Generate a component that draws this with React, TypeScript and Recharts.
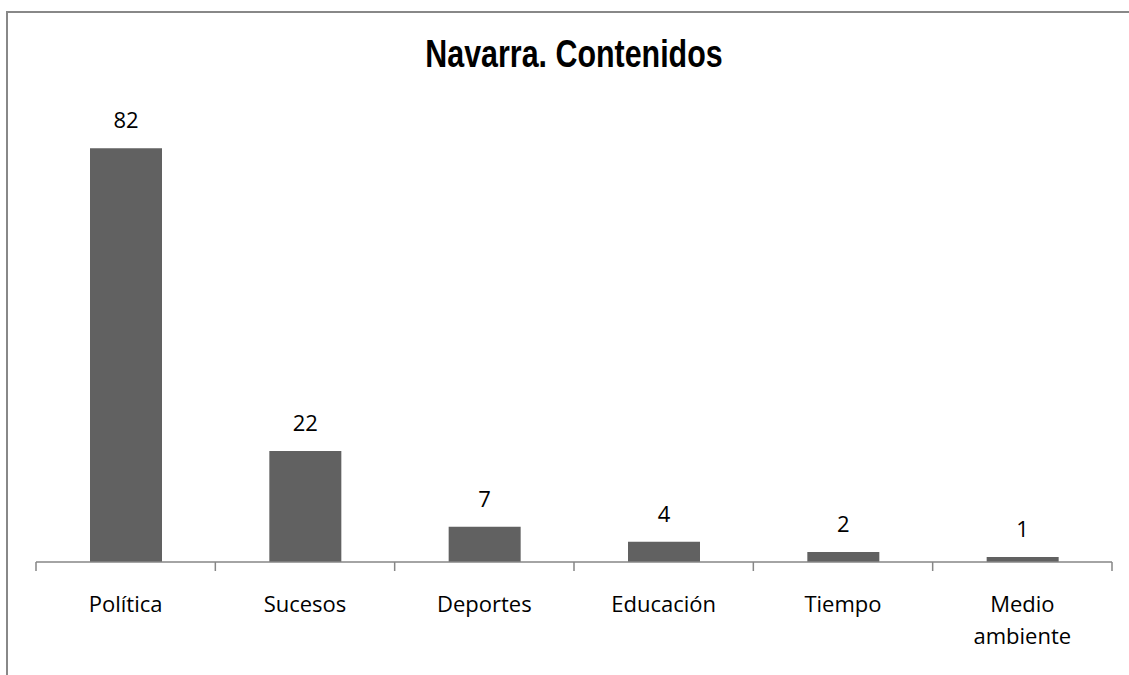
import React from 'react';
import { BarChart, Bar, XAxis, YAxis, LabelList } from 'recharts';

const categories = ['Política', 'Sucesos', 'Deportes', 'Educación', 'Tiempo', 'Medio ambiente'];
const counts = [82, 22, 7, 4, 2, 1];

const data = categories.map((name, i) => ({ name, value: counts[i] }));

const WIDTH = 1129;
const HEIGHT = 675;
const MARGIN = { top: 108, right: 17, bottom: 0, left: 36 };
const BAND = (WIDTH - MARGIN.left - MARGIN.right) / categories.length;
const AXIS_COLOR = '#868686';
const LABEL_FONT = '"Open Sans", "Noto Sans", sans-serif';

const CategoryTick = (props: any) => {
  const { x, y, payload, index } = props;
  const words = String(payload.value).split(' ');
  const lines = words.length > 1 ? words : [payload.value];
  const left = x - BAND / 2;
  return (
    <g>
      <line x1={left} y1={y - 8} x2={left} y2={y + 1} stroke={AXIS_COLOR} strokeWidth={1.5} />
      {index === categories.length - 1 && (
        <line x1={left + BAND} y1={y - 8} x2={left + BAND} y2={y + 1} stroke={AXIS_COLOR} strokeWidth={1.5} />
      )}
      <text
        x={x}
        y={y + 42}
        textAnchor="middle"
        fill="#000"
        fontSize={22}
        fontFamily={LABEL_FONT}
      >
        {lines.map((l: string, i: number) => (
          <tspan key={i} x={x} dy={i === 0 ? 0 : 32}>
            {l}
          </tspan>
        ))}
      </text>
    </g>
  );
};

export default function App() {
  return (
    <div
      style={{
        position: 'fixed',
        left: 0,
        top: 0,
        width: WIDTH,
        height: HEIGHT,
        overflow: 'hidden',
        background: '#fff',
      }}
    >
      <div
        style={{
          position: 'absolute',
          left: 6,
          top: 11,
          width: WIDTH + 40,
          height: HEIGHT + 40,
          borderTop: '2px solid #888',
          borderLeft: '2px solid #888',
        }}
      />
      <div
        style={{
          position: 'absolute',
          left: MARGIN.left,
          width: WIDTH - MARGIN.left - MARGIN.right,
          top: 32,
          textAlign: 'center',
          fontFamily: '"Liberation Sans", Arial, sans-serif',
          fontSize: 38,
          fontWeight: 'bold',
          color: '#000',
          lineHeight: '44px',
          transform: 'scaleX(0.8)',
          transformOrigin: 'center',
        }}
      >
        Navarra. Contenidos
      </div>
      <div style={{ position: 'absolute', left: 0, top: 0 }}>
        <BarChart width={WIDTH} height={HEIGHT} data={data} margin={MARGIN}>
          <XAxis
            dataKey="name"
            height={113}
            axisLine={{ stroke: AXIS_COLOR, strokeWidth: 1.5 }}
            tickLine={false}
            interval={0}
            tick={<CategoryTick />}
          />
          <YAxis hide domain={[0, 90]} />
          <Bar dataKey="value" fill="#616161" barSize={72} isAnimationActive={false}>
            <LabelList
              dataKey="value"
              position="top"
              offset={20}
              fill="#000"
              fontSize={22}
              fontFamily={LABEL_FONT}
            />
          </Bar>
        </BarChart>
      </div>
    </div>
  );
}
